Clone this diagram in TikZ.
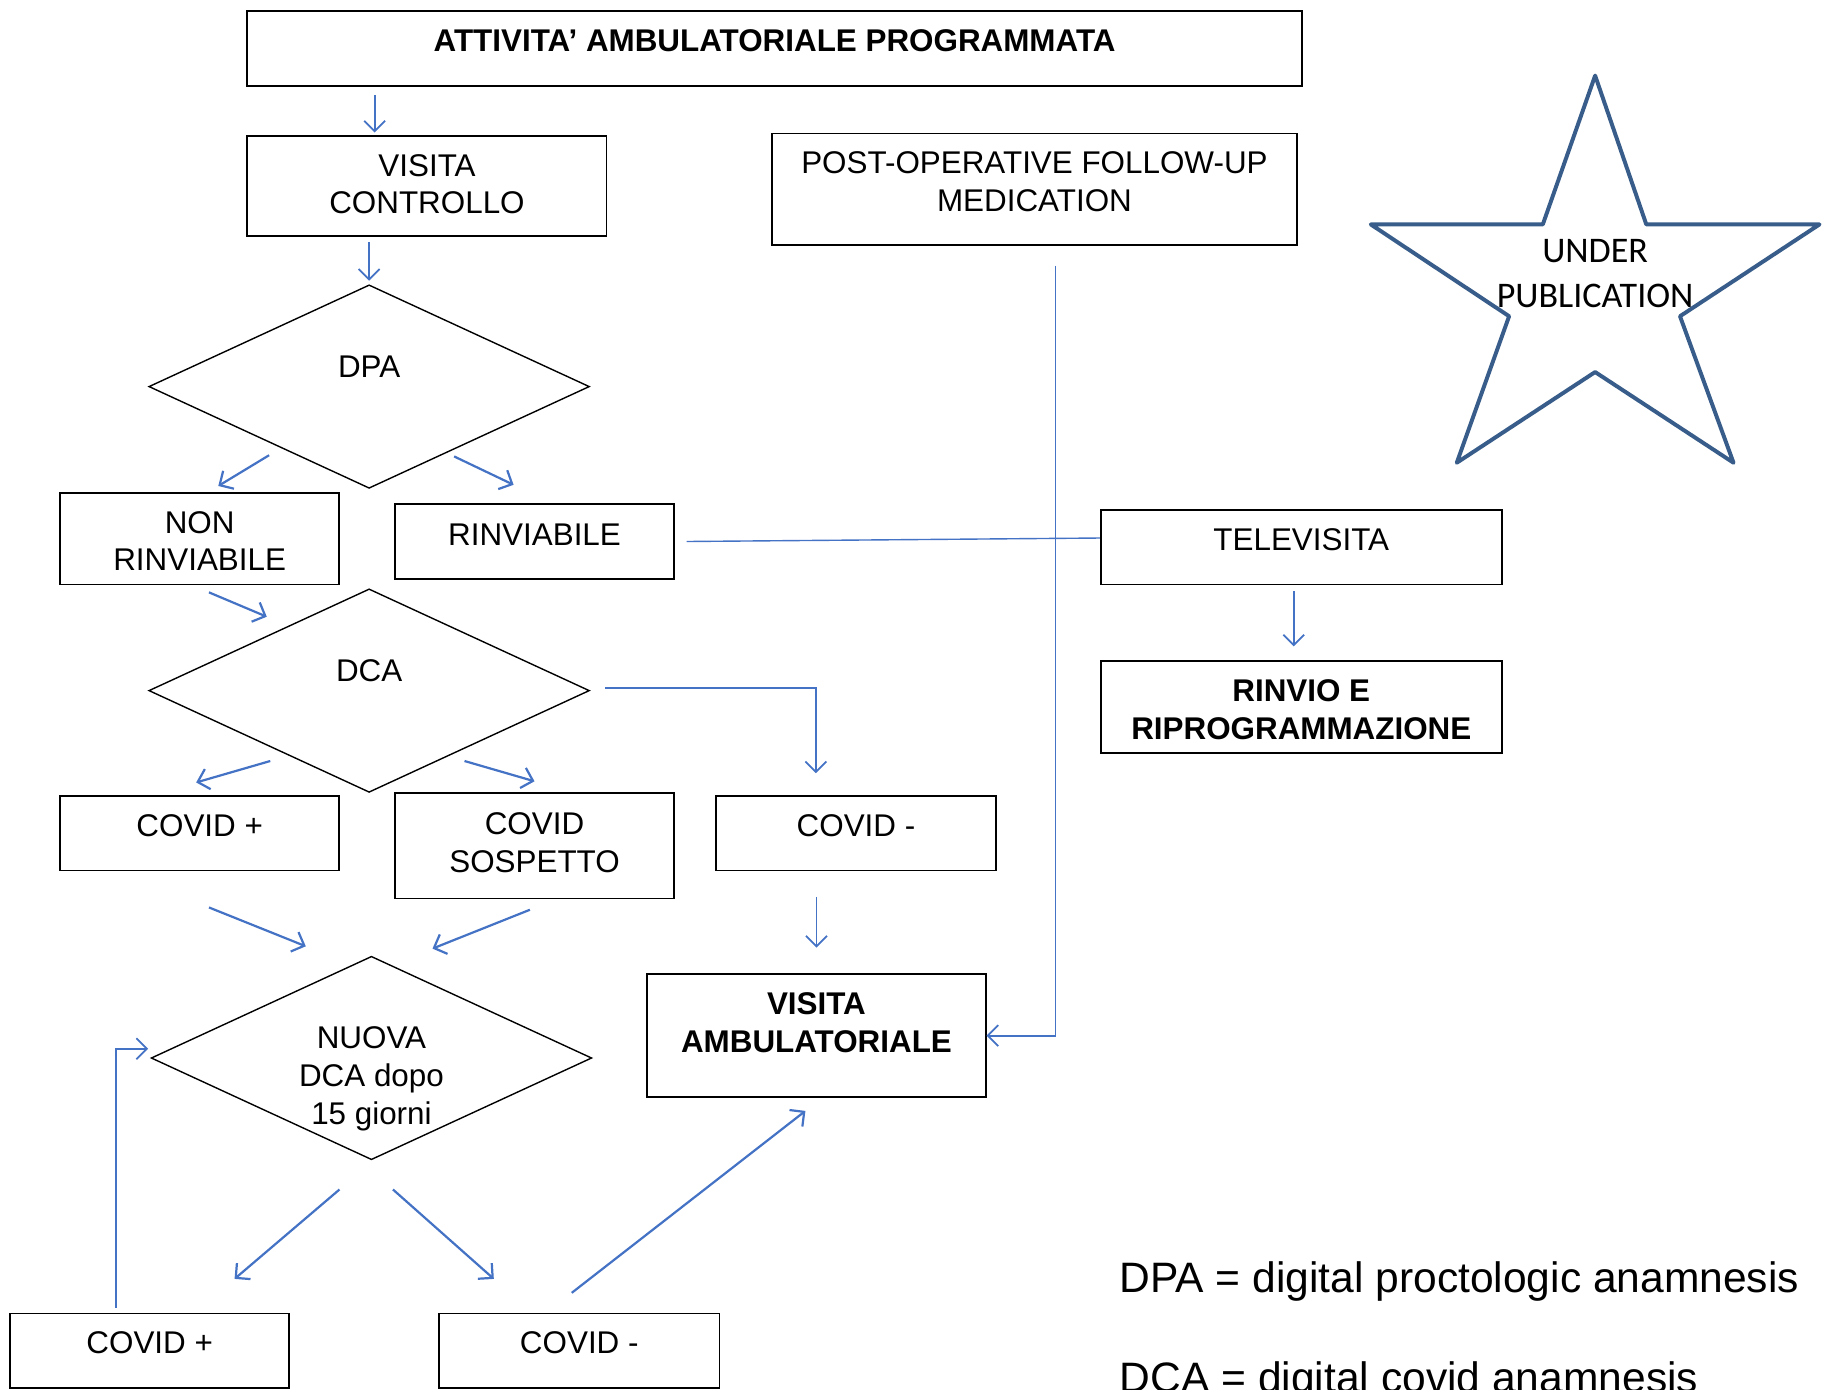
\documentclass[tikz,border=0pt]{standalone}
\usepackage{fontspec}
\setmainfont{Liberation Sans}
\newfontfamily\starfont{Carlito}
\usetikzlibrary{shapes.geometric,arrows.meta}
\definecolor{arrowblue}{HTML}{4472C4}
\definecolor{starblue}{HTML}{385D8A}
\newcommand{\boxfont}{\fontsize{27}{32.5}\selectfont}
\newcommand{\legfont}{\fontsize{36.6}{44}\selectfont}
\tikzset{
	box/.style={shape=rectangle, draw=black, line width=1.5pt, inner sep=0pt, anchor=north west},
	dia/.style={shape=diamond, draw=black, line width=1.2pt, inner sep=0pt, minimum width=379pt, minimum height=175pt},
	txt/.style={inner sep=0pt, align=center, font=\boxfont},
	toptxt/.style={txt, anchor=north, label distance=-16.5pt},
	boldtxt/.style={toptxt, font=\boxfont\bfseries},
	diatxt/.style={txt, yshift=17.5pt},
	arr/.style={->, draw=arrowblue, line width=1.9pt},
	thinarr/.style={->, draw=arrowblue, line width=1.5pt},
}
\begin{document}
\begin{tikzpicture}[
	x=1pt, y=-1pt,
	>={Straight Barb[length=9pt,width=18pt]},
]
\useasboundingbox (0,0) rectangle (1568,1195);
\clip (0,0) rectangle (1568,1195);

\node[box, minimum width=907pt, minimum height=64pt, label={[boldtxt]north:ATTIVITA’ AMBULATORIALE PROGRAMMATA}] (title) at (212,9) {};
\node[box, minimum width=309pt, minimum height=86pt, label={[toptxt]north:VISITA\\CONTROLLO}] (visctrl) at (212,116) {};
\node[box, minimum width=452pt, minimum height=96pt, label={[toptxt]north:POST-OPERATIVE FOLLOW-UP\\MEDICATION}] (postop) at (663,114) {};
\node[dia, label={[diatxt]center:DPA}] (dpa) at (317.5,332.5) {};
\node[box, minimum width=240pt, minimum height=79pt, label={[toptxt]north:NON\\RINVIABILE}] (nonrinv) at (51,423) {};
\node[box, minimum width=240pt, minimum height=64pt, label={[toptxt, label distance=-17.5pt]north:RINVIABILE}] (rinv) at (339,433) {};
\node[dia, label={[diatxt, yshift=-0.5pt]center:DCA}] (dca) at (317.5,594) {};
\node[box, minimum width=240pt, minimum height=64pt, label={[toptxt]north:COVID +}] (covpos) at (51,684) {};
\node[box, minimum width=240pt, minimum height=91pt, label={[toptxt, label distance=-17.5pt]north:COVID\\SOSPETTO}] (covsosp) at (339,681) {};
\node[box, minimum width=241pt, minimum height=64pt, label={[toptxt]north:COVID -}] (covneg) at (615,684) {};
\node[dia, label={[diatxt, yshift=-35.5pt]center:NUOVA\\DCA dopo\\15 giorni}] (nuova) at (319.5,910) {};
\node[box, minimum width=291pt, minimum height=106pt, label={[boldtxt]north:VISITA\\AMBULATORIALE}] (visamb) at (556,837) {};
\node[box, minimum width=240pt, minimum height=64pt, label={[toptxt]north:COVID +}] (covpos2) at (8,1129) {};
\node[box, minimum width=241pt, minimum height=64pt, label={[toptxt]north:COVID -}] (covneg2) at (377,1129) {};
\node[box, minimum width=345pt, minimum height=64pt, label={[toptxt]north:TELEVISITA}] (tele) at (946,438) {};
\node[box, minimum width=345pt, minimum height=79pt, label={[boldtxt]north:RINVIO E\\RIPROGRAMMAZIONE}] (rinvio) at (946,568) {};

\draw[starblue, line width=3.4pt, line join=round] (1372,65) -- (1416,193) -- (1565,193) -- (1445,272) -- (1491,398) -- (1372,320) -- (1253,398) -- (1298,272) -- (1179,193) -- (1327,193) -- cycle;
\node[inner sep=0pt, align=center, anchor=north, font=\starfont\fontsize{31}{38}\selectfont] (pub) at (1372,206) {UNDER\\PUBLICATION};

\node[anchor=base west, inner sep=0pt, font=\legfont] (dpaleg) at (963,1112) {DPA = digital proctologic anamnesis};
\node[anchor=base west, inner sep=0pt, font=\legfont] (dcaleg) at (963,1198) {DCA = digital covid anamnesis};

\draw[thinarr, shorten <=7pt, shorten >=2pt] ([xshift=-45pt]visctrl.north |- title.south) -- ([xshift=-45pt]visctrl.north);
\draw[thinarr, shorten <=5pt, shorten >=3pt] (visctrl.south -| dpa.north) -- (dpa.north);
\draw[arr] ([xshift=9pt,yshift=-15pt]dpa.south west) -- ([xshift=16pt,yshift=5pt]nonrinv.north);
\draw[arr] ([xshift=-22pt,yshift=-16pt]dpa.south east) -- ([xshift=-18pt,yshift=16pt]rinv.north);
\draw[arr] ([xshift=8pt,yshift=-6pt]nonrinv.south) -- ([xshift=7pt,yshift=19.5pt]dca.north west);
\draw[arr] ([xshift=10pt,yshift=-16.5pt]dca.south west) -- ([xshift=-3pt,yshift=11pt]covpos.north);
\draw[arr] ([xshift=-13pt,yshift=-16.5pt]dca.south east) -- ([yshift=9pt]covsosp.north);
\draw[thinarr] ([xshift=13pt,yshift=2pt]dca.east) -| ([xshift=-34.5pt,yshift=19pt]covneg.north);
\draw[arr] ([xshift=8pt,yshift=-31pt]covpos.south) -- ([xshift=-56.5pt,yshift=8pt]nuova.north);
\draw[arr] ([xshift=-4pt,yshift=-9pt]covsosp.south) -- ([xshift=52.5pt,yshift=6pt]nuova.north);
\draw[thinarr] ([yshift=-22pt]covneg.south -| visamb.north) -- ([yshift=22pt]visamb.north);
\draw[thinarr] ([xshift=18pt,yshift=-17pt]postop.south) |- (visamb.east);
\draw[arrowblue, line width=1.2pt] ([xshift=10pt]rinv.east) -- ([yshift=8pt]tele.west);
\draw[thinarr] ([xshift=-6.5pt,yshift=-5pt]tele.south) -- ([xshift=-6.5pt,yshift=12pt]rinvio.north);
\draw[arr] ([xshift=-27.5pt,yshift=-25pt]nuova.south) -- ([xshift=73pt,yshift=29pt]covpos2.north);
\draw[arr] ([xshift=18.5pt,yshift=-25pt]nuova.south) -- ([xshift=-73.5pt,yshift=29pt]covneg2.north);
\draw[arr] ([xshift=-6.5pt,yshift=17pt]covneg2.north) -- ([xshift=-9.5pt,yshift=-11pt]visamb.south);
\draw[thinarr] ([xshift=-29pt,yshift=4pt]covpos2.north) |- ([xshift=-2pt,yshift=8pt]nuova.west);
\end{tikzpicture}
\end{document}
